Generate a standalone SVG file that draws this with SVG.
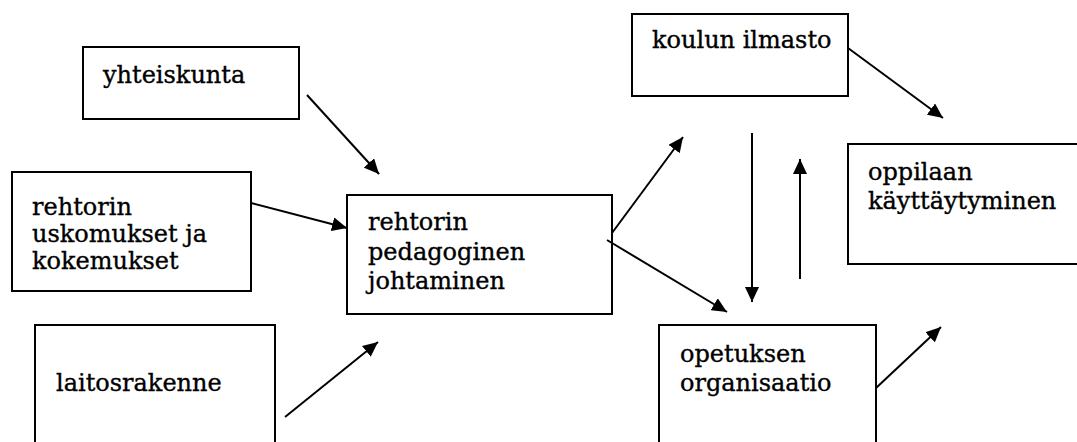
<svg xmlns="http://www.w3.org/2000/svg" width="1077" height="442" viewBox="0 0 1077 442">
  <style>
    .box { fill: #ffffff; stroke: #000000; stroke-width: 2; }
    .label { font-family: "DejaVu Serif", "Liberation Serif", serif; font-size: 24px; fill: #000000; stroke: #000000; stroke-width: 0.35; }
    .edge { stroke: #000000; stroke-width: 2; fill: none; marker-end: url(#head); }
  </style>
  <defs>
    <marker id="head" markerUnits="userSpaceOnUse" markerWidth="15" markerHeight="14" refX="15" refY="7" orient="auto">
      <path d="M0,0 L15,7 L0,14 z" fill="#000000"/>
    </marker>
  </defs>
  <rect width="1077" height="442" fill="#ffffff"/>

  <g id="yhteiskunta">
    <rect class="box" x="83" y="47" width="216" height="72"/>
    <text class="label" x="103" y="83">yhteiskunta</text>
  </g>

  <g id="uskomukset">
    <rect class="box" x="12" y="172" width="239" height="119"/>
    <text class="label" x="32" y="215">rehtorin</text>
    <text class="label" x="32" y="242">uskomukset ja</text>
    <text class="label" x="32" y="269">kokemukset</text>
  </g>

  <g id="laitosrakenne">
    <rect class="box" x="35" y="325" width="240" height="130"/>
    <text class="label" x="56" y="391">laitosrakenne</text>
  </g>

  <g id="johtaminen">
    <rect class="box" x="347" y="195" width="265" height="119"/>
    <text class="label" x="368" y="230">rehtorin</text>
    <text class="label" x="368" y="260">pedagoginen</text>
    <text class="label" x="368" y="289">johtaminen</text>
  </g>

  <g id="ilmasto">
    <rect class="box" x="632" y="14" width="216" height="82"/>
    <text class="label" x="652" y="48">koulun ilmasto</text>
  </g>

  <g id="kayttaytyminen">
    <rect class="box" x="848" y="144" width="240" height="120"/>
    <text class="label" x="868" y="180">oppilaan</text>
    <text class="label" x="868" y="209">käyttäytyminen</text>
  </g>

  <g id="organisaatio">
    <rect class="box" x="659" y="325" width="217" height="130"/>
    <text class="label" x="680" y="362">opetuksen</text>
    <text class="label" x="680" y="391">organisaatio</text>
  </g>

  <g id="connectors">
    <line class="edge" x1="307" y1="95" x2="379" y2="174"/>
    <line class="edge" x1="251" y1="203" x2="347" y2="228"/>
    <line class="edge" x1="285" y1="417" x2="378" y2="342"/>
    <line class="edge" x1="612" y1="233" x2="683" y2="137"/>
    <line class="edge" x1="607" y1="240" x2="727" y2="312"/>
    <line class="edge" x1="752" y1="133" x2="752" y2="302"/>
    <line class="edge" x1="800" y1="279" x2="800" y2="159"/>
    <line class="edge" x1="848" y1="48" x2="943" y2="118"/>
    <line class="edge" x1="876" y1="388" x2="941" y2="327"/>
  </g>
</svg>
